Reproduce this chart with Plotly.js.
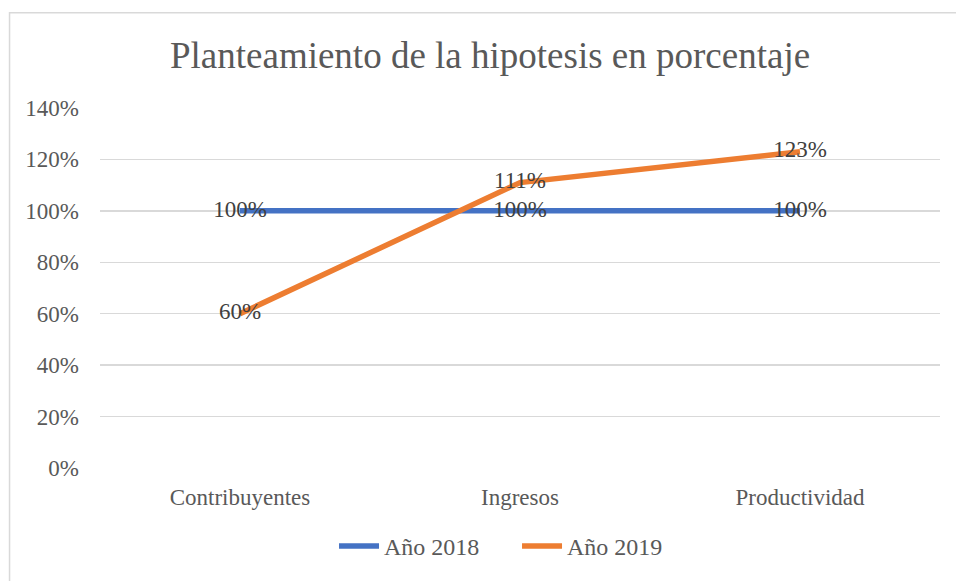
<!DOCTYPE html>
<html>
<head>
<meta charset="utf-8">
<script src="https://cdn.plot.ly/plotly-3.0.1.min.js"></script>
<style>html,body{margin:0;padding:0;background:#fff;}#chart{width:956px;height:581px;}</style>
</head>
<body>
<div id="chart"></div>
<script>
const categories = ["Contribuyentes", "Ingresos", "Productividad"];
const seriesNames = ["Año 2018", "Año 2019"];
const values2018 = [1.00, 1.00, 1.00];
const values2019 = [0.60, 1.11, 1.23];
const yTickVals = [0, 0.2, 0.4, 0.6, 0.8, 1.0, 1.2, 1.4];

const serif = "Liberation Serif, Times New Roman, serif";
const labelFont = {family: serif, size: 23, color: "#404040"};

const traces = [
  {x: categories, y: values2018, name: seriesNames[0], type: "scatter", mode: "lines+text",
   line: {color: "#4472C4", width: 5.5}, texttemplate: "%{y:.0%}", textposition: "middle center",
   textfont: labelFont, hoverinfo: "skip"},
  {x: categories, y: values2019, name: seriesNames[1], type: "scatter", mode: "lines+text",
   line: {color: "#ED7D31", width: 5.5}, texttemplate: "%{y:.0%}", textposition: "middle center",
   textfont: labelFont, hoverinfo: "skip"}
];

const layout = {
  width: 956, height: 581,
  margin: {l: 100, r: 16, t: 108, b: 110},
  paper_bgcolor: "#fff", plot_bgcolor: "#fff",
  font: {family: serif, color: "#595959", size: 23},
  title: {text: "Planteamiento de la hipotesis en porcentaje", font: {family: serif, size: 37, color: "#595959"},
          x: 0.5126, xref: "container", y: 0.905, yref: "container", xanchor: "center", yanchor: "middle"},
  xaxis: {type: "category", range: [-0.5, 2.5], showgrid: false, zeroline: false, showline: false,
          ticks: "", ticklabelstandoff: 13, tickfont: {family: serif, size: 23, color: "#595959"}, fixedrange: true},
  yaxis: {range: [0, 1.4], tickvals: yTickVals, tickformat: ".0%", showgrid: true, gridcolor: "#D9D9D9",
          gridwidth: 1.3, zeroline: false, showline: false, ticks: "", ticklabelstandoff: 20,
          tickfont: {family: serif, size: 23, color: "#595959"}, fixedrange: true},
  showlegend: true,
  legend: {orientation: "h", x: 0.2786, xanchor: "left", y: -0.2176, yanchor: "middle",
           font: {family: serif, size: 24, color: "#595959"}, itemwidth: 40, tracegroupgap: 0,
           entrywidth: 128, entrywidthmode: "pixels"},
  shapes: [{type: "rect", xref: "paper", yref: "paper", x0: -0.1077, x1: 1.03, y0: -0.32, y1: 1.2645,
            line: {color: "#D9D9D9", width: 1.5}, fillcolor: "rgba(0,0,0,0)", layer: "below"}]
};

Plotly.newPlot("chart", traces, layout, {displayModeBar: false, staticPlot: true});
</script>
</body>
</html>
